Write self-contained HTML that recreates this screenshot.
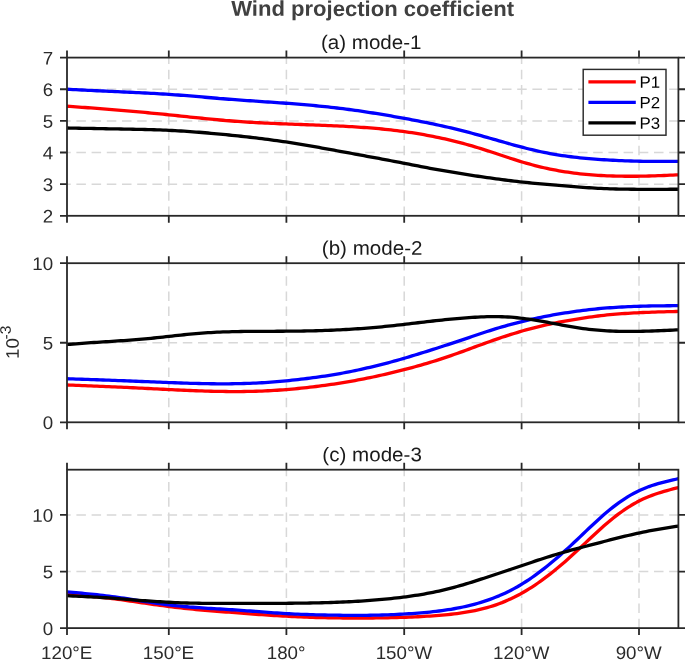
<!DOCTYPE html>
<html lang="en">
<head>
<meta charset="utf-8">
<title>Wind projection coefficient</title>
<style>html,body{margin:0;padding:0;background:#fff}body{width:685px;height:660px;overflow:hidden}svg{display:block;will-change:transform}</style>
</head>
<body>
<svg width="685" height="660" viewBox="0 0 685 660">
<rect width="685" height="660" fill="#ffffff"/>
<g font-family="'Liberation Sans', Arial, Helvetica, sans-serif">
<text transform="translate(372.6,15.9) rotate(0.03) scale(1.031,1)" font-size="21.4" text-anchor="middle" fill="#404040" font-weight="bold">Wind projection coefficient</text>
<g stroke="#d8d8d8" stroke-width="1.5" stroke-dasharray="9.5 5.7" fill="none">
<path d="M168.8,215.8 V57.6" stroke-dashoffset="0.2"/>
<path d="M286.4,215.8 V57.6" stroke-dashoffset="0.2"/>
<path d="M404.2,215.8 V57.6" stroke-dashoffset="0.2"/>
<path d="M521.6,215.8 V57.6" stroke-dashoffset="0.2"/>
<path d="M639.0,215.8 V57.6" stroke-dashoffset="0.2"/>
<path d="M67.0,184.16 H678.4" stroke-dashoffset="5.8"/>
<path d="M67.0,152.52 H678.4" stroke-dashoffset="5.8"/>
<path d="M67.0,120.88 H678.4" stroke-dashoffset="5.8"/>
<path d="M67.0,89.24 H678.4" stroke-dashoffset="5.8"/>
</g>
<g fill="none" stroke-width="3.3" stroke-linejoin="round">
<path d="M67.0,106.23 L70.0,106.45 L73.0,106.66 L76.0,106.87 L79.0,107.09 L82.0,107.31 L85.0,107.52 L88.0,107.74 L91.0,107.96 L94.0,108.19 L97.0,108.41 L100.0,108.64 L103.0,108.87 L106.0,109.10 L109.0,109.34 L112.0,109.57 L115.0,109.82 L118.0,110.06 L121.0,110.31 L124.0,110.57 L127.0,110.83 L130.0,111.09 L133.0,111.35 L136.0,111.62 L139.0,111.90 L142.0,112.17 L145.0,112.45 L148.0,112.74 L151.0,113.02 L154.0,113.31 L157.0,113.61 L160.0,113.91 L163.0,114.21 L166.0,114.51 L169.0,114.82 L172.0,115.13 L175.0,115.44 L178.0,115.76 L181.0,116.07 L184.0,116.39 L187.0,116.70 L190.0,117.02 L193.0,117.33 L196.0,117.65 L199.0,117.96 L202.0,118.26 L205.0,118.56 L208.0,118.86 L211.0,119.15 L214.0,119.44 L217.0,119.72 L220.0,119.99 L223.0,120.26 L226.0,120.52 L229.0,120.76 L232.0,121.00 L235.0,121.23 L238.0,121.45 L241.0,121.66 L244.0,121.86 L247.0,122.06 L250.0,122.24 L253.0,122.42 L256.0,122.59 L259.0,122.75 L262.0,122.91 L265.0,123.06 L268.0,123.20 L271.0,123.34 L274.0,123.47 L277.0,123.60 L280.0,123.73 L283.0,123.85 L286.0,123.97 L289.0,124.08 L292.0,124.20 L295.0,124.31 L298.0,124.42 L301.0,124.52 L304.0,124.63 L307.0,124.74 L310.0,124.85 L313.0,124.95 L316.0,125.07 L319.0,125.18 L322.0,125.29 L325.0,125.41 L328.0,125.53 L331.0,125.66 L334.0,125.79 L337.0,125.93 L340.0,126.07 L343.0,126.22 L346.0,126.38 L349.0,126.54 L352.0,126.71 L355.0,126.89 L358.0,127.08 L361.0,127.28 L364.0,127.49 L367.0,127.71 L370.0,127.94 L373.0,128.19 L376.0,128.44 L379.0,128.71 L382.0,129.00 L385.0,129.30 L388.0,129.61 L391.0,129.94 L394.0,130.28 L397.0,130.64 L400.0,131.02 L403.0,131.42 L406.0,131.84 L409.0,132.27 L412.0,132.72 L415.0,133.19 L418.0,133.68 L421.0,134.19 L424.0,134.72 L427.0,135.27 L430.0,135.83 L433.0,136.41 L436.0,137.02 L439.0,137.64 L442.0,138.29 L445.0,138.95 L448.0,139.64 L451.0,140.35 L454.0,141.08 L457.0,141.83 L460.0,142.61 L463.0,143.41 L466.0,144.23 L469.0,145.08 L472.0,145.95 L475.0,146.84 L478.0,147.75 L481.0,148.67 L484.0,149.61 L487.0,150.57 L490.0,151.53 L493.0,152.51 L496.0,153.50 L499.0,154.50 L502.0,155.50 L505.0,156.49 L508.0,157.48 L511.0,158.46 L514.0,159.43 L517.0,160.38 L520.0,161.31 L523.0,162.21 L526.0,163.09 L529.0,163.94 L532.0,164.76 L535.0,165.55 L538.0,166.31 L541.0,167.04 L544.0,167.74 L547.0,168.41 L550.0,169.04 L553.0,169.65 L556.0,170.22 L559.0,170.77 L562.0,171.28 L565.0,171.76 L568.0,172.22 L571.0,172.65 L574.0,173.05 L577.0,173.42 L580.0,173.77 L583.0,174.09 L586.0,174.39 L589.0,174.66 L592.0,174.90 L595.0,175.13 L598.0,175.33 L601.0,175.50 L604.0,175.66 L607.0,175.80 L610.0,175.91 L613.0,176.01 L616.0,176.10 L619.0,176.16 L622.0,176.21 L625.0,176.25 L628.0,176.27 L631.0,176.27 L634.0,176.26 L637.0,176.23 L640.0,176.19 L643.0,176.14 L646.0,176.08 L649.0,176.00 L652.0,175.91 L655.0,175.82 L658.0,175.71 L661.0,175.60 L664.0,175.48 L667.0,175.35 L670.0,175.22 L673.0,175.09 L676.0,174.95 L678.4,174.84" stroke="#ff0000"/>
<path d="M67.0,89.26 L70.0,89.41 L73.0,89.55 L76.0,89.70 L79.0,89.85 L82.0,90.00 L85.0,90.15 L88.0,90.29 L91.0,90.44 L94.0,90.59 L97.0,90.73 L100.0,90.88 L103.0,91.02 L106.0,91.16 L109.0,91.30 L112.0,91.44 L115.0,91.58 L118.0,91.72 L121.0,91.86 L124.0,91.99 L127.0,92.13 L130.0,92.27 L133.0,92.40 L136.0,92.54 L139.0,92.69 L142.0,92.83 L145.0,92.98 L148.0,93.13 L151.0,93.29 L154.0,93.45 L157.0,93.62 L160.0,93.79 L163.0,93.98 L166.0,94.17 L169.0,94.37 L172.0,94.57 L175.0,94.79 L178.0,95.01 L181.0,95.24 L184.0,95.48 L187.0,95.72 L190.0,95.97 L193.0,96.22 L196.0,96.47 L199.0,96.72 L202.0,96.98 L205.0,97.24 L208.0,97.50 L211.0,97.75 L214.0,98.01 L217.0,98.26 L220.0,98.52 L223.0,98.76 L226.0,99.01 L229.0,99.24 L232.0,99.48 L235.0,99.70 L238.0,99.92 L241.0,100.14 L244.0,100.35 L247.0,100.56 L250.0,100.77 L253.0,100.97 L256.0,101.17 L259.0,101.37 L262.0,101.57 L265.0,101.78 L268.0,101.98 L271.0,102.18 L274.0,102.38 L277.0,102.59 L280.0,102.80 L283.0,103.02 L286.0,103.24 L289.0,103.46 L292.0,103.69 L295.0,103.92 L298.0,104.17 L301.0,104.41 L304.0,104.67 L307.0,104.93 L310.0,105.20 L313.0,105.47 L316.0,105.76 L319.0,106.05 L322.0,106.35 L325.0,106.66 L328.0,106.98 L331.0,107.31 L334.0,107.65 L337.0,108.00 L340.0,108.36 L343.0,108.73 L346.0,109.11 L349.0,109.50 L352.0,109.91 L355.0,110.32 L358.0,110.74 L361.0,111.18 L364.0,111.62 L367.0,112.07 L370.0,112.53 L373.0,113.00 L376.0,113.48 L379.0,113.97 L382.0,114.46 L385.0,114.97 L388.0,115.48 L391.0,115.99 L394.0,116.52 L397.0,117.05 L400.0,117.58 L403.0,118.12 L406.0,118.67 L409.0,119.23 L412.0,119.79 L415.0,120.36 L418.0,120.94 L421.0,121.52 L424.0,122.12 L427.0,122.72 L430.0,123.33 L433.0,123.96 L436.0,124.59 L439.0,125.24 L442.0,125.90 L445.0,126.57 L448.0,127.25 L451.0,127.95 L454.0,128.66 L457.0,129.39 L460.0,130.13 L463.0,130.89 L466.0,131.66 L469.0,132.44 L472.0,133.24 L475.0,134.05 L478.0,134.88 L481.0,135.71 L484.0,136.55 L487.0,137.39 L490.0,138.24 L493.0,139.10 L496.0,139.96 L499.0,140.82 L502.0,141.67 L505.0,142.53 L508.0,143.38 L511.0,144.22 L514.0,145.05 L517.0,145.87 L520.0,146.67 L523.0,147.46 L526.0,148.23 L529.0,148.98 L532.0,149.71 L535.0,150.41 L538.0,151.09 L541.0,151.75 L544.0,152.38 L547.0,152.97 L550.0,153.54 L553.0,154.07 L556.0,154.58 L559.0,155.06 L562.0,155.52 L565.0,155.95 L568.0,156.35 L571.0,156.74 L574.0,157.10 L577.0,157.45 L580.0,157.78 L583.0,158.09 L586.0,158.38 L589.0,158.65 L592.0,158.91 L595.0,159.14 L598.0,159.37 L601.0,159.57 L604.0,159.77 L607.0,159.95 L610.0,160.12 L613.0,160.27 L616.0,160.42 L619.0,160.56 L622.0,160.68 L625.0,160.80 L628.0,160.91 L631.0,161.00 L634.0,161.09 L637.0,161.17 L640.0,161.23 L643.0,161.29 L646.0,161.34 L649.0,161.37 L652.0,161.40 L655.0,161.42 L658.0,161.43 L661.0,161.44 L664.0,161.43 L667.0,161.42 L670.0,161.41 L673.0,161.39 L676.0,161.37 L678.4,161.35" stroke="#0000ff"/>
<path d="M67.0,128.00 L70.0,128.06 L73.0,128.12 L76.0,128.18 L79.0,128.23 L82.0,128.29 L85.0,128.35 L88.0,128.41 L91.0,128.46 L94.0,128.52 L97.0,128.57 L100.0,128.63 L103.0,128.69 L106.0,128.74 L109.0,128.80 L112.0,128.85 L115.0,128.90 L118.0,128.96 L121.0,129.01 L124.0,129.06 L127.0,129.11 L130.0,129.17 L133.0,129.23 L136.0,129.29 L139.0,129.35 L142.0,129.42 L145.0,129.49 L148.0,129.57 L151.0,129.65 L154.0,129.75 L157.0,129.85 L160.0,129.95 L163.0,130.07 L166.0,130.20 L169.0,130.33 L172.0,130.48 L175.0,130.64 L178.0,130.81 L181.0,130.99 L184.0,131.18 L187.0,131.38 L190.0,131.59 L193.0,131.80 L196.0,132.03 L199.0,132.26 L202.0,132.51 L205.0,132.76 L208.0,133.01 L211.0,133.28 L214.0,133.55 L217.0,133.83 L220.0,134.11 L223.0,134.40 L226.0,134.70 L229.0,135.00 L232.0,135.31 L235.0,135.62 L238.0,135.94 L241.0,136.26 L244.0,136.59 L247.0,136.92 L250.0,137.26 L253.0,137.61 L256.0,137.97 L259.0,138.33 L262.0,138.70 L265.0,139.08 L268.0,139.47 L271.0,139.87 L274.0,140.27 L277.0,140.69 L280.0,141.11 L283.0,141.55 L286.0,141.99 L289.0,142.45 L292.0,142.91 L295.0,143.39 L298.0,143.88 L301.0,144.37 L304.0,144.87 L307.0,145.38 L310.0,145.90 L313.0,146.42 L316.0,146.95 L319.0,147.48 L322.0,148.02 L325.0,148.56 L328.0,149.10 L331.0,149.65 L334.0,150.20 L337.0,150.75 L340.0,151.30 L343.0,151.85 L346.0,152.40 L349.0,152.95 L352.0,153.50 L355.0,154.05 L358.0,154.60 L361.0,155.16 L364.0,155.71 L367.0,156.26 L370.0,156.82 L373.0,157.37 L376.0,157.93 L379.0,158.49 L382.0,159.05 L385.0,159.61 L388.0,160.18 L391.0,160.75 L394.0,161.32 L397.0,161.89 L400.0,162.47 L403.0,163.05 L406.0,163.63 L409.0,164.22 L412.0,164.81 L415.0,165.39 L418.0,165.97 L421.0,166.55 L424.0,167.13 L427.0,167.70 L430.0,168.26 L433.0,168.82 L436.0,169.37 L439.0,169.91 L442.0,170.44 L445.0,170.96 L448.0,171.47 L451.0,171.98 L454.0,172.48 L457.0,172.97 L460.0,173.46 L463.0,173.94 L466.0,174.41 L469.0,174.88 L472.0,175.35 L475.0,175.80 L478.0,176.25 L481.0,176.70 L484.0,177.13 L487.0,177.56 L490.0,177.98 L493.0,178.40 L496.0,178.81 L499.0,179.21 L502.0,179.60 L505.0,179.99 L508.0,180.37 L511.0,180.74 L514.0,181.10 L517.0,181.45 L520.0,181.79 L523.0,182.12 L526.0,182.44 L529.0,182.75 L532.0,183.06 L535.0,183.35 L538.0,183.64 L541.0,183.92 L544.0,184.19 L547.0,184.45 L550.0,184.71 L553.0,184.96 L556.0,185.21 L559.0,185.45 L562.0,185.69 L565.0,185.92 L568.0,186.16 L571.0,186.39 L574.0,186.63 L577.0,186.87 L580.0,187.10 L583.0,187.33 L586.0,187.55 L589.0,187.76 L592.0,187.95 L595.0,188.13 L598.0,188.29 L601.0,188.44 L604.0,188.58 L607.0,188.70 L610.0,188.81 L613.0,188.91 L616.0,188.99 L619.0,189.06 L622.0,189.12 L625.0,189.17 L628.0,189.21 L631.0,189.24 L634.0,189.26 L637.0,189.28 L640.0,189.29 L643.0,189.30 L646.0,189.31 L649.0,189.31 L652.0,189.31 L655.0,189.30 L658.0,189.30 L661.0,189.29 L664.0,189.29 L667.0,189.28 L670.0,189.27 L673.0,189.26 L676.0,189.26 L678.4,189.25" stroke="#000000"/>
</g>
<g stroke="#282828" stroke-width="1.8" fill="none">
<rect x="67.0" y="57.6" width="611.4" height="158.20"/>
<path d="M67.0,215.8 v7.0 M67.0,57.6 v-7.0 M168.8,215.8 v7.0 M168.8,57.6 v-7.0 M286.4,215.8 v7.0 M286.4,57.6 v-7.0 M404.2,215.8 v7.0 M404.2,57.6 v-7.0 M521.6,215.8 v7.0 M521.6,57.6 v-7.0 M639.0,215.8 v7.0 M639.0,57.6 v-7.0 M67.0,215.80 h-7.0 M678.4,215.80 h7.0 M67.0,184.16 h-7.0 M678.4,184.16 h7.0 M67.0,152.52 h-7.0 M678.4,152.52 h7.0 M67.0,120.88 h-7.0 M678.4,120.88 h7.0 M67.0,89.24 h-7.0 M678.4,89.24 h7.0 M67.0,57.60 h-7.0 M678.4,57.60 h7.0"/>
</g>
<text transform="translate(53.2,222.6) rotate(0.03) scale(1.03,1)" font-size="18.2" text-anchor="end" fill="#2b2b2b">2</text>
<text transform="translate(53.2,190.96) rotate(0.03) scale(1.03,1)" font-size="18.2" text-anchor="end" fill="#2b2b2b">3</text>
<text transform="translate(53.2,159.32) rotate(0.03) scale(1.03,1)" font-size="18.2" text-anchor="end" fill="#2b2b2b">4</text>
<text transform="translate(53.2,127.68) rotate(0.03) scale(1.03,1)" font-size="18.2" text-anchor="end" fill="#2b2b2b">5</text>
<text transform="translate(53.2,96.04) rotate(0.03) scale(1.03,1)" font-size="18.2" text-anchor="end" fill="#2b2b2b">6</text>
<text transform="translate(53.2,64.4) rotate(0.03) scale(1.03,1)" font-size="18.2" text-anchor="end" fill="#2b2b2b">7</text>
<text transform="translate(371.2,49.1) rotate(0.03) scale(1.04,1)" font-size="19.8" text-anchor="middle" fill="#1a1a1a">(a) mode-1</text>
<g stroke="#d8d8d8" stroke-width="1.5" stroke-dasharray="9.5 5.7" fill="none">
<path d="M168.8,422.3 V263.2" stroke-dashoffset="0.2"/>
<path d="M286.4,422.3 V263.2" stroke-dashoffset="0.2"/>
<path d="M404.2,422.3 V263.2" stroke-dashoffset="0.2"/>
<path d="M521.6,422.3 V263.2" stroke-dashoffset="0.2"/>
<path d="M639.0,422.3 V263.2" stroke-dashoffset="0.2"/>
<path d="M67.0,342.75 H678.4" stroke-dashoffset="5.8"/>
</g>
<g fill="none" stroke-width="3.3" stroke-linejoin="round">
<path d="M67.0,384.99 L70.0,385.10 L73.0,385.22 L76.0,385.33 L79.0,385.45 L82.0,385.56 L85.0,385.68 L88.0,385.80 L91.0,385.91 L94.0,386.03 L97.0,386.15 L100.0,386.28 L103.0,386.40 L106.0,386.53 L109.0,386.65 L112.0,386.78 L115.0,386.91 L118.0,387.05 L121.0,387.19 L124.0,387.32 L127.0,387.47 L130.0,387.61 L133.0,387.75 L136.0,387.90 L139.0,388.05 L142.0,388.19 L145.0,388.34 L148.0,388.49 L151.0,388.64 L154.0,388.79 L157.0,388.94 L160.0,389.09 L163.0,389.24 L166.0,389.39 L169.0,389.54 L172.0,389.69 L175.0,389.83 L178.0,389.98 L181.0,390.12 L184.0,390.25 L187.0,390.39 L190.0,390.52 L193.0,390.64 L196.0,390.76 L199.0,390.87 L202.0,390.97 L205.0,391.07 L208.0,391.16 L211.0,391.24 L214.0,391.31 L217.0,391.38 L220.0,391.43 L223.0,391.47 L226.0,391.51 L229.0,391.53 L232.0,391.55 L235.0,391.55 L238.0,391.55 L241.0,391.53 L244.0,391.50 L247.0,391.46 L250.0,391.41 L253.0,391.34 L256.0,391.25 L259.0,391.15 L262.0,391.04 L265.0,390.91 L268.0,390.76 L271.0,390.60 L274.0,390.42 L277.0,390.23 L280.0,390.02 L283.0,389.80 L286.0,389.56 L289.0,389.32 L292.0,389.06 L295.0,388.78 L298.0,388.50 L301.0,388.20 L304.0,387.88 L307.0,387.56 L310.0,387.22 L313.0,386.86 L316.0,386.50 L319.0,386.12 L322.0,385.73 L325.0,385.32 L328.0,384.90 L331.0,384.47 L334.0,384.03 L337.0,383.57 L340.0,383.10 L343.0,382.61 L346.0,382.12 L349.0,381.61 L352.0,381.08 L355.0,380.54 L358.0,379.99 L361.0,379.42 L364.0,378.84 L367.0,378.24 L370.0,377.62 L373.0,376.99 L376.0,376.34 L379.0,375.68 L382.0,375.00 L385.0,374.31 L388.0,373.60 L391.0,372.88 L394.0,372.15 L397.0,371.41 L400.0,370.66 L403.0,369.89 L406.0,369.12 L409.0,368.34 L412.0,367.54 L415.0,366.73 L418.0,365.90 L421.0,365.06 L424.0,364.20 L427.0,363.33 L430.0,362.43 L433.0,361.51 L436.0,360.57 L439.0,359.61 L442.0,358.63 L445.0,357.63 L448.0,356.62 L451.0,355.59 L454.0,354.54 L457.0,353.48 L460.0,352.41 L463.0,351.33 L466.0,350.23 L469.0,349.13 L472.0,348.03 L475.0,346.92 L478.0,345.82 L481.0,344.71 L484.0,343.62 L487.0,342.53 L490.0,341.46 L493.0,340.40 L496.0,339.35 L499.0,338.32 L502.0,337.31 L505.0,336.32 L508.0,335.35 L511.0,334.39 L514.0,333.46 L517.0,332.55 L520.0,331.65 L523.0,330.78 L526.0,329.94 L529.0,329.11 L532.0,328.31 L535.0,327.53 L538.0,326.78 L541.0,326.05 L544.0,325.35 L547.0,324.68 L550.0,324.02 L553.0,323.40 L556.0,322.79 L559.0,322.21 L562.0,321.64 L565.0,321.10 L568.0,320.56 L571.0,320.04 L574.0,319.53 L577.0,319.03 L580.0,318.54 L583.0,318.07 L586.0,317.61 L589.0,317.18 L592.0,316.76 L595.0,316.36 L598.0,315.99 L601.0,315.63 L604.0,315.30 L607.0,314.98 L610.0,314.69 L613.0,314.41 L616.0,314.15 L619.0,313.91 L622.0,313.69 L625.0,313.49 L628.0,313.29 L631.0,313.12 L634.0,312.95 L637.0,312.80 L640.0,312.65 L643.0,312.52 L646.0,312.39 L649.0,312.28 L652.0,312.16 L655.0,312.06 L658.0,311.96 L661.0,311.87 L664.0,311.79 L667.0,311.71 L670.0,311.63 L673.0,311.55 L676.0,311.48 L678.4,311.42" stroke="#ff0000"/>
<path d="M67.0,378.74 L70.0,378.85 L73.0,378.95 L76.0,379.05 L79.0,379.15 L82.0,379.25 L85.0,379.36 L88.0,379.46 L91.0,379.56 L94.0,379.67 L97.0,379.77 L100.0,379.88 L103.0,379.98 L106.0,380.09 L109.0,380.20 L112.0,380.31 L115.0,380.42 L118.0,380.54 L121.0,380.65 L124.0,380.77 L127.0,380.88 L130.0,381.00 L133.0,381.12 L136.0,381.24 L139.0,381.36 L142.0,381.48 L145.0,381.60 L148.0,381.72 L151.0,381.84 L154.0,381.96 L157.0,382.07 L160.0,382.19 L163.0,382.31 L166.0,382.43 L169.0,382.54 L172.0,382.65 L175.0,382.77 L178.0,382.88 L181.0,382.98 L184.0,383.08 L187.0,383.18 L190.0,383.28 L193.0,383.36 L196.0,383.44 L199.0,383.52 L202.0,383.59 L205.0,383.65 L208.0,383.70 L211.0,383.74 L214.0,383.77 L217.0,383.80 L220.0,383.81 L223.0,383.81 L226.0,383.81 L229.0,383.79 L232.0,383.76 L235.0,383.72 L238.0,383.66 L241.0,383.60 L244.0,383.52 L247.0,383.42 L250.0,383.31 L253.0,383.19 L256.0,383.05 L259.0,382.90 L262.0,382.73 L265.0,382.54 L268.0,382.34 L271.0,382.12 L274.0,381.89 L277.0,381.65 L280.0,381.39 L283.0,381.12 L286.0,380.83 L289.0,380.53 L292.0,380.22 L295.0,379.90 L298.0,379.57 L301.0,379.22 L304.0,378.86 L307.0,378.49 L310.0,378.11 L313.0,377.71 L316.0,377.31 L319.0,376.89 L322.0,376.45 L325.0,376.01 L328.0,375.55 L331.0,375.07 L334.0,374.58 L337.0,374.07 L340.0,373.54 L343.0,373.00 L346.0,372.43 L349.0,371.85 L352.0,371.25 L355.0,370.63 L358.0,369.99 L361.0,369.34 L364.0,368.67 L367.0,367.98 L370.0,367.28 L373.0,366.57 L376.0,365.84 L379.0,365.09 L382.0,364.34 L385.0,363.56 L388.0,362.78 L391.0,361.97 L394.0,361.16 L397.0,360.33 L400.0,359.48 L403.0,358.62 L406.0,357.74 L409.0,356.86 L412.0,355.95 L415.0,355.04 L418.0,354.12 L421.0,353.19 L424.0,352.25 L427.0,351.31 L430.0,350.36 L433.0,349.41 L436.0,348.45 L439.0,347.49 L442.0,346.52 L445.0,345.55 L448.0,344.58 L451.0,343.60 L454.0,342.61 L457.0,341.62 L460.0,340.62 L463.0,339.61 L466.0,338.59 L469.0,337.57 L472.0,336.55 L475.0,335.53 L478.0,334.52 L481.0,333.51 L484.0,332.52 L487.0,331.53 L490.0,330.57 L493.0,329.62 L496.0,328.70 L499.0,327.79 L502.0,326.91 L505.0,326.05 L508.0,325.21 L511.0,324.39 L514.0,323.59 L517.0,322.81 L520.0,322.05 L523.0,321.31 L526.0,320.58 L529.0,319.88 L532.0,319.20 L535.0,318.54 L538.0,317.89 L541.0,317.27 L544.0,316.67 L547.0,316.09 L550.0,315.52 L553.0,314.98 L556.0,314.46 L559.0,313.95 L562.0,313.46 L565.0,312.99 L568.0,312.53 L571.0,312.08 L574.0,311.65 L577.0,311.23 L580.0,310.82 L583.0,310.42 L586.0,310.05 L589.0,309.69 L592.0,309.36 L595.0,309.04 L598.0,308.75 L601.0,308.47 L604.0,308.21 L607.0,307.97 L610.0,307.75 L613.0,307.54 L616.0,307.34 L619.0,307.16 L622.0,306.99 L625.0,306.83 L628.0,306.69 L631.0,306.56 L634.0,306.44 L637.0,306.33 L640.0,306.24 L643.0,306.15 L646.0,306.07 L649.0,306.01 L652.0,305.95 L655.0,305.89 L658.0,305.85 L661.0,305.81 L664.0,305.78 L667.0,305.75 L670.0,305.73 L673.0,305.71 L676.0,305.69 L678.4,305.67" stroke="#0000ff"/>
<path d="M67.0,344.46 L70.0,344.24 L73.0,344.01 L76.0,343.79 L79.0,343.57 L82.0,343.35 L85.0,343.14 L88.0,342.93 L91.0,342.72 L94.0,342.52 L97.0,342.32 L100.0,342.13 L103.0,341.93 L106.0,341.74 L109.0,341.55 L112.0,341.35 L115.0,341.16 L118.0,340.96 L121.0,340.76 L124.0,340.55 L127.0,340.34 L130.0,340.11 L133.0,339.89 L136.0,339.65 L139.0,339.40 L142.0,339.14 L145.0,338.87 L148.0,338.58 L151.0,338.29 L154.0,337.99 L157.0,337.68 L160.0,337.36 L163.0,337.04 L166.0,336.72 L169.0,336.39 L172.0,336.05 L175.0,335.72 L178.0,335.39 L181.0,335.07 L184.0,334.75 L187.0,334.44 L190.0,334.15 L193.0,333.87 L196.0,333.60 L199.0,333.35 L202.0,333.12 L205.0,332.91 L208.0,332.71 L211.0,332.53 L214.0,332.37 L217.0,332.22 L220.0,332.09 L223.0,331.97 L226.0,331.87 L229.0,331.78 L232.0,331.70 L235.0,331.63 L238.0,331.57 L241.0,331.52 L244.0,331.47 L247.0,331.44 L250.0,331.40 L253.0,331.38 L256.0,331.36 L259.0,331.34 L262.0,331.33 L265.0,331.31 L268.0,331.30 L271.0,331.29 L274.0,331.28 L277.0,331.27 L280.0,331.25 L283.0,331.24 L286.0,331.22 L289.0,331.19 L292.0,331.17 L295.0,331.13 L298.0,331.09 L301.0,331.05 L304.0,331.00 L307.0,330.94 L310.0,330.88 L313.0,330.81 L316.0,330.74 L319.0,330.65 L322.0,330.56 L325.0,330.46 L328.0,330.35 L331.0,330.24 L334.0,330.11 L337.0,329.97 L340.0,329.83 L343.0,329.68 L346.0,329.51 L349.0,329.34 L352.0,329.16 L355.0,328.96 L358.0,328.76 L361.0,328.55 L364.0,328.32 L367.0,328.09 L370.0,327.85 L373.0,327.59 L376.0,327.33 L379.0,327.05 L382.0,326.77 L385.0,326.48 L388.0,326.17 L391.0,325.86 L394.0,325.54 L397.0,325.22 L400.0,324.88 L403.0,324.54 L406.0,324.19 L409.0,323.83 L412.0,323.47 L415.0,323.11 L418.0,322.75 L421.0,322.39 L424.0,322.03 L427.0,321.68 L430.0,321.33 L433.0,320.99 L436.0,320.66 L439.0,320.33 L442.0,320.02 L445.0,319.72 L448.0,319.42 L451.0,319.13 L454.0,318.86 L457.0,318.59 L460.0,318.34 L463.0,318.09 L466.0,317.86 L469.0,317.64 L472.0,317.43 L475.0,317.24 L478.0,317.07 L481.0,316.92 L484.0,316.80 L487.0,316.70 L490.0,316.63 L493.0,316.60 L496.0,316.61 L499.0,316.65 L502.0,316.73 L505.0,316.85 L508.0,317.02 L511.0,317.22 L514.0,317.46 L517.0,317.74 L520.0,318.06 L523.0,318.42 L526.0,318.81 L529.0,319.23 L532.0,319.67 L535.0,320.15 L538.0,320.65 L541.0,321.16 L544.0,321.70 L547.0,322.24 L550.0,322.80 L553.0,323.35 L556.0,323.91 L559.0,324.47 L562.0,325.03 L565.0,325.57 L568.0,326.11 L571.0,326.63 L574.0,327.13 L577.0,327.62 L580.0,328.08 L583.0,328.51 L586.0,328.92 L589.0,329.29 L592.0,329.64 L595.0,329.94 L598.0,330.22 L601.0,330.46 L604.0,330.67 L607.0,330.86 L610.0,331.01 L613.0,331.14 L616.0,331.24 L619.0,331.32 L622.0,331.38 L625.0,331.41 L628.0,331.43 L631.0,331.42 L634.0,331.40 L637.0,331.36 L640.0,331.31 L643.0,331.24 L646.0,331.17 L649.0,331.08 L652.0,330.98 L655.0,330.87 L658.0,330.75 L661.0,330.63 L664.0,330.50 L667.0,330.36 L670.0,330.23 L673.0,330.09 L676.0,329.94 L678.4,329.83" stroke="#000000"/>
</g>
<g stroke="#282828" stroke-width="1.8" fill="none">
<rect x="67.0" y="263.2" width="611.4" height="159.10"/>
<path d="M67.0,422.3 v7.0 M67.0,263.2 v-7.0 M168.8,422.3 v7.0 M168.8,263.2 v-7.0 M286.4,422.3 v7.0 M286.4,263.2 v-7.0 M404.2,422.3 v7.0 M404.2,263.2 v-7.0 M521.6,422.3 v7.0 M521.6,263.2 v-7.0 M639.0,422.3 v7.0 M639.0,263.2 v-7.0 M67.0,422.30 h-7.0 M678.4,422.30 h7.0 M67.0,342.75 h-7.0 M678.4,342.75 h7.0 M67.0,263.20 h-7.0 M678.4,263.20 h7.0"/>
</g>
<text transform="translate(53.2,429.1) rotate(0.03) scale(1.03,1)" font-size="18.2" text-anchor="end" fill="#2b2b2b">0</text>
<text transform="translate(53.2,349.55) rotate(0.03) scale(1.03,1)" font-size="18.2" text-anchor="end" fill="#2b2b2b">5</text>
<text transform="translate(53.2,270.0) rotate(0.03) scale(1.03,1)" font-size="18.2" text-anchor="end" fill="#2b2b2b">10</text>
<text transform="translate(372.1,254.7) rotate(0.03) scale(1.04,1)" font-size="19.8" text-anchor="middle" fill="#1a1a1a">(b) mode-2</text>
<g stroke="#d8d8d8" stroke-width="1.5" stroke-dasharray="9.5 5.7" fill="none">
<path d="M168.8,628.1 V469.7" stroke-dashoffset="0.2"/>
<path d="M286.4,628.1 V469.7" stroke-dashoffset="0.2"/>
<path d="M404.2,628.1 V469.7" stroke-dashoffset="0.2"/>
<path d="M521.6,628.1 V469.7" stroke-dashoffset="0.2"/>
<path d="M639.0,628.1 V469.7" stroke-dashoffset="0.2"/>
<path d="M67.0,571.53 H678.4" stroke-dashoffset="5.8"/>
<path d="M67.0,514.96 H678.4" stroke-dashoffset="5.8"/>
</g>
<g fill="none" stroke-width="3.3" stroke-linejoin="round">
<path d="M67.0,594.41 L70.0,594.65 L73.0,594.88 L76.0,595.12 L79.0,595.36 L82.0,595.61 L85.0,595.86 L88.0,596.12 L91.0,596.39 L94.0,596.66 L97.0,596.95 L100.0,597.25 L103.0,597.56 L106.0,597.88 L109.0,598.22 L112.0,598.57 L115.0,598.94 L118.0,599.32 L121.0,599.72 L124.0,600.14 L127.0,600.56 L130.0,601.00 L133.0,601.44 L136.0,601.88 L139.0,602.33 L142.0,602.77 L145.0,603.21 L148.0,603.65 L151.0,604.08 L154.0,604.50 L157.0,604.92 L160.0,605.33 L163.0,605.73 L166.0,606.12 L169.0,606.50 L172.0,606.88 L175.0,607.24 L178.0,607.60 L181.0,607.94 L184.0,608.28 L187.0,608.60 L190.0,608.91 L193.0,609.21 L196.0,609.50 L199.0,609.78 L202.0,610.06 L205.0,610.32 L208.0,610.57 L211.0,610.82 L214.0,611.06 L217.0,611.30 L220.0,611.53 L223.0,611.76 L226.0,611.99 L229.0,612.22 L232.0,612.45 L235.0,612.69 L238.0,612.92 L241.0,613.15 L244.0,613.38 L247.0,613.61 L250.0,613.84 L253.0,614.06 L256.0,614.29 L259.0,614.50 L262.0,614.71 L265.0,614.92 L268.0,615.12 L271.0,615.32 L274.0,615.51 L277.0,615.70 L280.0,615.87 L283.0,616.05 L286.0,616.21 L289.0,616.37 L292.0,616.52 L295.0,616.67 L298.0,616.81 L301.0,616.94 L304.0,617.06 L307.0,617.18 L310.0,617.29 L313.0,617.39 L316.0,617.48 L319.0,617.57 L322.0,617.65 L325.0,617.72 L328.0,617.78 L331.0,617.84 L334.0,617.89 L337.0,617.94 L340.0,617.97 L343.0,618.01 L346.0,618.03 L349.0,618.05 L352.0,618.07 L355.0,618.08 L358.0,618.08 L361.0,618.08 L364.0,618.07 L367.0,618.05 L370.0,618.03 L373.0,618.01 L376.0,617.97 L379.0,617.94 L382.0,617.89 L385.0,617.84 L388.0,617.78 L391.0,617.71 L394.0,617.64 L397.0,617.56 L400.0,617.47 L403.0,617.37 L406.0,617.26 L409.0,617.14 L412.0,617.01 L415.0,616.88 L418.0,616.73 L421.0,616.57 L424.0,616.40 L427.0,616.22 L430.0,616.03 L433.0,615.83 L436.0,615.61 L439.0,615.38 L442.0,615.14 L445.0,614.87 L448.0,614.58 L451.0,614.26 L454.0,613.92 L457.0,613.55 L460.0,613.15 L463.0,612.71 L466.0,612.24 L469.0,611.73 L472.0,611.17 L475.0,610.57 L478.0,609.92 L481.0,609.22 L484.0,608.47 L487.0,607.65 L490.0,606.77 L493.0,605.83 L496.0,604.82 L499.0,603.74 L502.0,602.60 L505.0,601.38 L508.0,600.09 L511.0,598.72 L514.0,597.29 L517.0,595.77 L520.0,594.18 L523.0,592.50 L526.0,590.75 L529.0,588.92 L532.0,587.02 L535.0,585.04 L538.0,582.99 L541.0,580.87 L544.0,578.68 L547.0,576.42 L550.0,574.10 L553.0,571.72 L556.0,569.28 L559.0,566.78 L562.0,564.23 L565.0,561.63 L568.0,558.99 L571.0,556.30 L574.0,553.56 L577.0,550.79 L580.0,548.00 L583.0,545.19 L586.0,542.37 L589.0,539.55 L592.0,536.75 L595.0,533.97 L598.0,531.22 L601.0,528.51 L604.0,525.86 L607.0,523.26 L610.0,520.73 L613.0,518.28 L616.0,515.92 L619.0,513.64 L622.0,511.47 L625.0,509.39 L628.0,507.41 L631.0,505.53 L634.0,503.76 L637.0,502.09 L640.0,500.54 L643.0,499.10 L646.0,497.76 L649.0,496.51 L652.0,495.35 L655.0,494.27 L658.0,493.26 L661.0,492.31 L664.0,491.42 L667.0,490.57 L670.0,489.75 L673.0,488.97 L676.0,488.20 L678.4,487.59" stroke="#ff0000"/>
<path d="M67.0,591.91 L70.0,592.17 L73.0,592.44 L76.0,592.71 L79.0,592.98 L82.0,593.25 L85.0,593.54 L88.0,593.82 L91.0,594.12 L94.0,594.43 L97.0,594.75 L100.0,595.08 L103.0,595.42 L106.0,595.78 L109.0,596.14 L112.0,596.53 L115.0,596.93 L118.0,597.35 L121.0,597.78 L124.0,598.23 L127.0,598.69 L130.0,599.16 L133.0,599.63 L136.0,600.11 L139.0,600.59 L142.0,601.06 L145.0,601.53 L148.0,601.99 L151.0,602.44 L154.0,602.88 L157.0,603.31 L160.0,603.73 L163.0,604.13 L166.0,604.52 L169.0,604.89 L172.0,605.24 L175.0,605.58 L178.0,605.90 L181.0,606.20 L184.0,606.49 L187.0,606.76 L190.0,607.02 L193.0,607.26 L196.0,607.49 L199.0,607.71 L202.0,607.91 L205.0,608.11 L208.0,608.30 L211.0,608.48 L214.0,608.66 L217.0,608.84 L220.0,609.01 L223.0,609.19 L226.0,609.37 L229.0,609.55 L232.0,609.75 L235.0,609.94 L238.0,610.15 L241.0,610.36 L244.0,610.57 L247.0,610.79 L250.0,611.01 L253.0,611.23 L256.0,611.46 L259.0,611.68 L262.0,611.91 L265.0,612.14 L268.0,612.36 L271.0,612.58 L274.0,612.79 L277.0,613.00 L280.0,613.20 L283.0,613.39 L286.0,613.57 L289.0,613.74 L292.0,613.90 L295.0,614.04 L298.0,614.18 L301.0,614.30 L304.0,614.41 L307.0,614.52 L310.0,614.62 L313.0,614.71 L316.0,614.80 L319.0,614.87 L322.0,614.95 L325.0,615.01 L328.0,615.07 L331.0,615.13 L334.0,615.17 L337.0,615.22 L340.0,615.25 L343.0,615.28 L346.0,615.31 L349.0,615.33 L352.0,615.34 L355.0,615.34 L358.0,615.34 L361.0,615.33 L364.0,615.31 L367.0,615.28 L370.0,615.24 L373.0,615.19 L376.0,615.13 L379.0,615.06 L382.0,614.98 L385.0,614.89 L388.0,614.79 L391.0,614.67 L394.0,614.55 L397.0,614.41 L400.0,614.27 L403.0,614.11 L406.0,613.94 L409.0,613.75 L412.0,613.55 L415.0,613.34 L418.0,613.11 L421.0,612.87 L424.0,612.61 L427.0,612.33 L430.0,612.03 L433.0,611.71 L436.0,611.36 L439.0,611.00 L442.0,610.61 L445.0,610.19 L448.0,609.74 L451.0,609.26 L454.0,608.75 L457.0,608.21 L460.0,607.62 L463.0,607.00 L466.0,606.34 L469.0,605.64 L472.0,604.89 L475.0,604.10 L478.0,603.26 L481.0,602.37 L484.0,601.42 L487.0,600.42 L490.0,599.37 L493.0,598.26 L496.0,597.08 L499.0,595.85 L502.0,594.54 L505.0,593.17 L508.0,591.73 L511.0,590.22 L514.0,588.63 L517.0,586.97 L520.0,585.22 L523.0,583.41 L526.0,581.51 L529.0,579.54 L532.0,577.49 L535.0,575.37 L538.0,573.19 L541.0,570.93 L544.0,568.62 L547.0,566.24 L550.0,563.80 L553.0,561.31 L556.0,558.76 L559.0,556.16 L562.0,553.52 L565.0,550.83 L568.0,548.10 L571.0,545.34 L574.0,542.53 L577.0,539.70 L580.0,536.85 L583.0,534.00 L586.0,531.14 L589.0,528.30 L592.0,525.47 L595.0,522.68 L598.0,519.93 L601.0,517.23 L604.0,514.59 L607.0,512.03 L610.0,509.54 L613.0,507.14 L616.0,504.84 L619.0,502.64 L622.0,500.55 L625.0,498.56 L628.0,496.68 L631.0,494.91 L634.0,493.25 L637.0,491.70 L640.0,490.26 L643.0,488.93 L646.0,487.71 L649.0,486.58 L652.0,485.54 L655.0,484.57 L658.0,483.67 L661.0,482.83 L664.0,482.05 L667.0,481.31 L670.0,480.60 L673.0,479.92 L676.0,479.25 L678.4,478.73" stroke="#0000ff"/>
<path d="M67.0,595.72 L70.0,595.86 L73.0,596.00 L76.0,596.14 L79.0,596.28 L82.0,596.43 L85.0,596.58 L88.0,596.73 L91.0,596.88 L94.0,597.04 L97.0,597.21 L100.0,597.37 L103.0,597.55 L106.0,597.73 L109.0,597.92 L112.0,598.12 L115.0,598.33 L118.0,598.55 L121.0,598.78 L124.0,599.03 L127.0,599.27 L130.0,599.53 L133.0,599.78 L136.0,600.03 L139.0,600.28 L142.0,600.52 L145.0,600.75 L148.0,600.97 L151.0,601.19 L154.0,601.39 L157.0,601.58 L160.0,601.77 L163.0,601.94 L166.0,602.11 L169.0,602.26 L172.0,602.41 L175.0,602.54 L178.0,602.67 L181.0,602.78 L184.0,602.89 L187.0,602.98 L190.0,603.07 L193.0,603.15 L196.0,603.21 L199.0,603.27 L202.0,603.31 L205.0,603.35 L208.0,603.38 L211.0,603.41 L214.0,603.43 L217.0,603.44 L220.0,603.45 L223.0,603.46 L226.0,603.46 L229.0,603.46 L232.0,603.46 L235.0,603.46 L238.0,603.46 L241.0,603.46 L244.0,603.46 L247.0,603.45 L250.0,603.45 L253.0,603.44 L256.0,603.43 L259.0,603.42 L262.0,603.41 L265.0,603.40 L268.0,603.39 L271.0,603.38 L274.0,603.36 L277.0,603.34 L280.0,603.32 L283.0,603.30 L286.0,603.28 L289.0,603.26 L292.0,603.23 L295.0,603.20 L298.0,603.17 L301.0,603.13 L304.0,603.09 L307.0,603.05 L310.0,603.00 L313.0,602.94 L316.0,602.88 L319.0,602.82 L322.0,602.74 L325.0,602.66 L328.0,602.58 L331.0,602.48 L334.0,602.38 L337.0,602.27 L340.0,602.15 L343.0,602.02 L346.0,601.88 L349.0,601.73 L352.0,601.57 L355.0,601.41 L358.0,601.23 L361.0,601.04 L364.0,600.84 L367.0,600.64 L370.0,600.42 L373.0,600.19 L376.0,599.95 L379.0,599.70 L382.0,599.43 L385.0,599.15 L388.0,598.86 L391.0,598.55 L394.0,598.23 L397.0,597.89 L400.0,597.53 L403.0,597.16 L406.0,596.77 L409.0,596.37 L412.0,595.94 L415.0,595.49 L418.0,595.02 L421.0,594.53 L424.0,594.01 L427.0,593.47 L430.0,592.90 L433.0,592.30 L436.0,591.67 L439.0,591.02 L442.0,590.34 L445.0,589.63 L448.0,588.90 L451.0,588.14 L454.0,587.35 L457.0,586.53 L460.0,585.69 L463.0,584.82 L466.0,583.93 L469.0,583.01 L472.0,582.08 L475.0,581.13 L478.0,580.16 L481.0,579.19 L484.0,578.20 L487.0,577.21 L490.0,576.21 L493.0,575.22 L496.0,574.23 L499.0,573.23 L502.0,572.24 L505.0,571.25 L508.0,570.25 L511.0,569.26 L514.0,568.26 L517.0,567.25 L520.0,566.25 L523.0,565.24 L526.0,564.22 L529.0,563.21 L532.0,562.19 L535.0,561.19 L538.0,560.19 L541.0,559.20 L544.0,558.22 L547.0,557.26 L550.0,556.32 L553.0,555.40 L556.0,554.49 L559.0,553.60 L562.0,552.73 L565.0,551.88 L568.0,551.04 L571.0,550.21 L574.0,549.39 L577.0,548.59 L580.0,547.80 L583.0,547.01 L586.0,546.23 L589.0,545.45 L592.0,544.66 L595.0,543.88 L598.0,543.09 L601.0,542.31 L604.0,541.52 L607.0,540.74 L610.0,539.97 L613.0,539.20 L616.0,538.43 L619.0,537.68 L622.0,536.93 L625.0,536.20 L628.0,535.48 L631.0,534.77 L634.0,534.09 L637.0,533.42 L640.0,532.78 L643.0,532.16 L646.0,531.56 L649.0,530.98 L652.0,530.42 L655.0,529.88 L658.0,529.35 L661.0,528.84 L664.0,528.34 L667.0,527.85 L670.0,527.37 L673.0,526.90 L676.0,526.44 L678.4,526.06" stroke="#000000"/>
</g>
<g stroke="#282828" stroke-width="1.8" fill="none">
<rect x="67.0" y="469.7" width="611.4" height="158.40"/>
<path d="M67.0,628.1 v7.0 M67.0,469.7 v-7.0 M168.8,628.1 v7.0 M168.8,469.7 v-7.0 M286.4,628.1 v7.0 M286.4,469.7 v-7.0 M404.2,628.1 v7.0 M404.2,469.7 v-7.0 M521.6,628.1 v7.0 M521.6,469.7 v-7.0 M639.0,628.1 v7.0 M639.0,469.7 v-7.0 M67.0,628.10 h-7.0 M678.4,628.10 h7.0 M67.0,571.53 h-7.0 M678.4,571.53 h7.0 M67.0,514.96 h-7.0 M678.4,514.96 h7.0"/>
</g>
<text transform="translate(53.2,634.9) rotate(0.03) scale(1.03,1)" font-size="18.2" text-anchor="end" fill="#2b2b2b">0</text>
<text transform="translate(53.2,578.33) rotate(0.03) scale(1.03,1)" font-size="18.2" text-anchor="end" fill="#2b2b2b">5</text>
<text transform="translate(53.2,521.76) rotate(0.03) scale(1.03,1)" font-size="18.2" text-anchor="end" fill="#2b2b2b">10</text>
<text transform="translate(372.1,461.2) rotate(0.03) scale(1.04,1)" font-size="19.8" text-anchor="middle" fill="#1a1a1a">(c) mode-3</text>
<text transform="translate(66.7,658.9) rotate(0.03) scale(1.03,1)" font-size="18.2" text-anchor="middle" fill="#2b2b2b">120°E</text>
<text transform="translate(168.5,658.9) rotate(0.03) scale(1.03,1)" font-size="18.2" text-anchor="middle" fill="#2b2b2b">150°E</text>
<text transform="translate(286.09999999999997,658.9) rotate(0.03) scale(1.03,1)" font-size="18.2" text-anchor="middle" fill="#2b2b2b">180°</text>
<text transform="translate(403.9,658.9) rotate(0.03) scale(1.03,1)" font-size="18.2" text-anchor="middle" fill="#2b2b2b">150°W</text>
<text transform="translate(521.3000000000001,658.9) rotate(0.03) scale(1.03,1)" font-size="18.2" text-anchor="middle" fill="#2b2b2b">120°W</text>
<text transform="translate(638.7,658.9) rotate(0.03) scale(1.03,1)" font-size="18.2" text-anchor="middle" fill="#2b2b2b">90°W</text>
<text transform="translate(18.8,359.0) rotate(-90.03) scale(1.03,1)" font-size="18.2" fill="#2b2b2b">10<tspan dx="-1.3" dy="-8" font-size="15.2">-3</tspan></text>
<rect x="583.2" y="69.4" width="82.8" height="65.8" fill="#ffffff" stroke="#2b2b2b" stroke-width="1.45"/>
<path d="M588.4,81.9 H635.8" stroke="#ff0000" stroke-width="3.3" fill="none"/>
<text transform="translate(639.6,87.8) rotate(0.03) scale(1.04,1)" font-size="16.2" text-anchor="start" fill="#000000">P1</text>
<path d="M588.4,102.3 H635.8" stroke="#0000ff" stroke-width="3.3" fill="none"/>
<text transform="translate(639.6,108.2) rotate(0.03) scale(1.04,1)" font-size="16.2" text-anchor="start" fill="#000000">P2</text>
<path d="M588.4,122.8 H635.8" stroke="#000000" stroke-width="3.3" fill="none"/>
<text transform="translate(639.6,128.7) rotate(0.03) scale(1.04,1)" font-size="16.2" text-anchor="start" fill="#000000">P3</text>
</g>
</svg>
</body>
</html>
